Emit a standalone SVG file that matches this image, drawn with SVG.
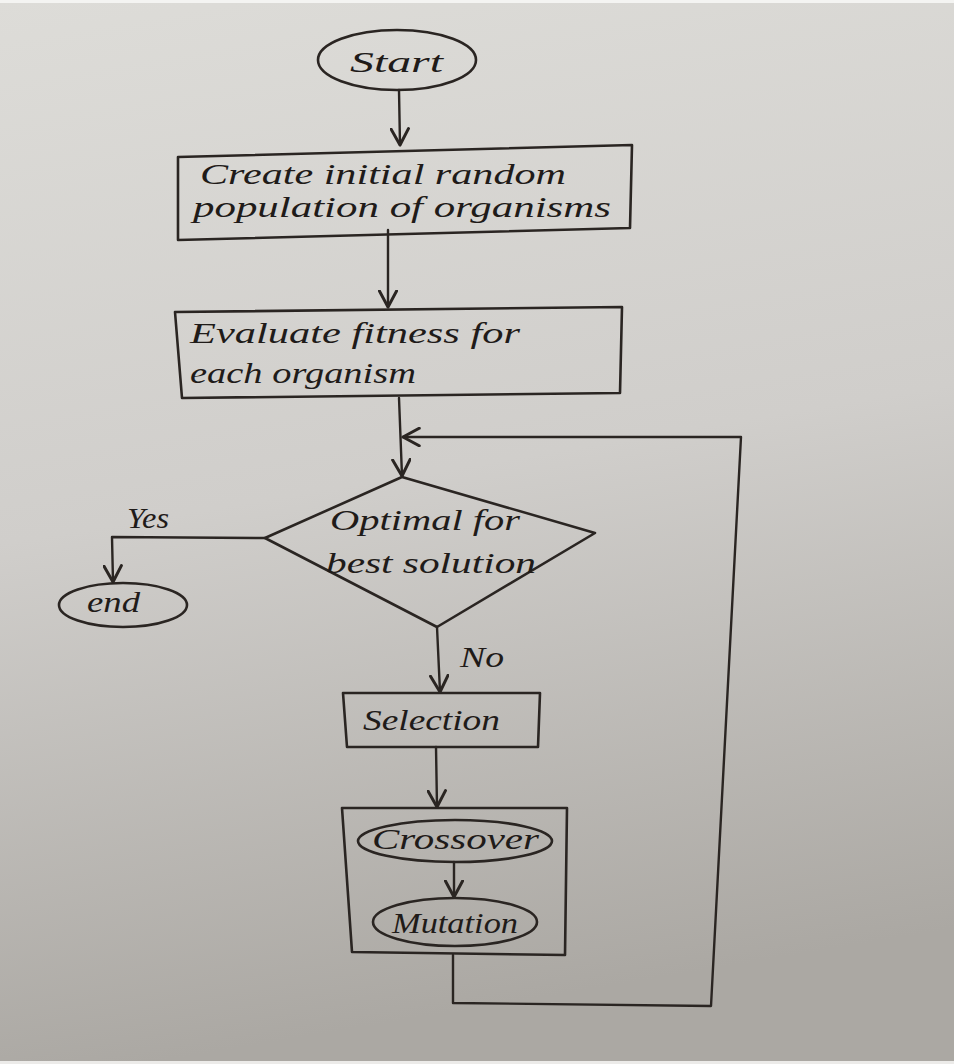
<svg xmlns="http://www.w3.org/2000/svg" width="954" height="1064" viewBox="0 0 954 1064">
<defs>
<linearGradient id="paper" x1="0" y1="0" x2="0.15" y2="1">
<stop offset="0" stop-color="#dddcd8"/>
<stop offset="0.5" stop-color="#d0cecb"/>
<stop offset="1" stop-color="#aba8a3"/>
</linearGradient>
<marker id="arr" markerUnits="userSpaceOnUse" markerWidth="20" markerHeight="20" refX="14" refY="8" orient="auto" viewBox="0 0 16 16">
<path d="M1,1 L14,8 L1,15" fill="none" stroke="#2a2522" stroke-width="2.4" stroke-linejoin="round" stroke-linecap="round"/>
</marker>
<style>
.s{fill:none;stroke:#2a2522;stroke-width:2.6;stroke-linejoin:round;stroke-linecap:round}
.t{font-family:"Liberation Serif","DejaVu Serif",serif;font-style:italic;fill:#1f1b19;font-size:30px}
.c{fill:none;stroke:#2a2522;stroke-width:2.4;stroke-linecap:round;stroke-linejoin:round}
</style>
</defs>
<rect x="0" y="0" width="954" height="1064" fill="url(#paper)"/>
<rect x="0" y="0" width="954" height="3" fill="#f4f4f2"/>
<rect x="0" y="1061" width="954" height="3" fill="#ecebe9"/>

<g id="connectors">
<path class="c" d="M399,90 L400,145" marker-end="url(#arr)"/>
<path class="c" d="M388,230 L388,307" marker-end="url(#arr)"/>
<path class="c" d="M399,398 L402,476" marker-end="url(#arr)"/>
<path class="c" d="M265,538 L112,537 L113,582" marker-end="url(#arr)"/>
<path class="c" d="M437,627 L440,692" marker-end="url(#arr)"/>
<path class="c" d="M436,747 L437,807" marker-end="url(#arr)"/>
<path class="c" d="M454,862 L454,897" marker-end="url(#arr)"/>
<path class="c" d="M453,955 L453,1003 L711,1006 L741,437 L403,437" marker-end="url(#arr)"/>
</g>

<g id="start">
<ellipse class="s" cx="397" cy="60" rx="79" ry="30"/>
<text class="t" x="350" y="72" textLength="93" lengthAdjust="spacingAndGlyphs">Start</text>
</g>

<g id="create">
<polygon class="s" points="178,157 632,145 630,228 178,240"/>
<text class="t" x="200" y="184" textLength="366" lengthAdjust="spacingAndGlyphs">Create initial random</text>
<text class="t" x="193" y="217" textLength="418" lengthAdjust="spacingAndGlyphs">population of organisms</text>
</g>

<g id="evaluate">
<polygon class="s" points="175,312 622,307 620,393 182,398"/>
<text class="t" x="190" y="343" textLength="330" lengthAdjust="spacingAndGlyphs">Evaluate fitness for</text>
<text class="t" x="190" y="383" textLength="226" lengthAdjust="spacingAndGlyphs">each organism</text>
</g>

<g id="decision">
<polygon class="s" points="402,477 595,533 437,627 265,538"/>
<text class="t" x="330" y="530" textLength="190" lengthAdjust="spacingAndGlyphs">Optimal for</text>
<text class="t" x="326" y="573" textLength="210" lengthAdjust="spacingAndGlyphs">best solution</text>
</g>

<g id="yes-label">
<text class="t" x="127" y="528" font-size="24" textLength="42" lengthAdjust="spacingAndGlyphs">Yes</text>
</g>
<g id="no-label">
<text class="t" x="460" y="667" font-size="24" textLength="44" lengthAdjust="spacingAndGlyphs">No</text>
</g>

<g id="end">
<ellipse class="s" cx="123" cy="605" rx="64" ry="22"/>
<text class="t" x="87" y="612" font-size="26" textLength="53" lengthAdjust="spacingAndGlyphs">end</text>
</g>

<g id="selection">
<polygon class="s" points="343,693 540,693 538,747 347,747"/>
<text class="t" x="363" y="730" textLength="137" lengthAdjust="spacingAndGlyphs">Selection</text>
</g>

<g id="operators">
<polygon class="s" points="342,808 567,808 565,955 352,952"/>
<g id="crossover">
<ellipse class="s" cx="455" cy="841" rx="97" ry="21"/>
<text class="t" x="372" y="849" font-size="26" textLength="167" lengthAdjust="spacingAndGlyphs">Crossover</text>
</g>
<g id="mutation">
<ellipse class="s" cx="455" cy="922" rx="82" ry="24"/>
<text class="t" x="392" y="933" font-size="28" textLength="126" lengthAdjust="spacingAndGlyphs">Mutation</text>
</g>
</g>
</svg>
